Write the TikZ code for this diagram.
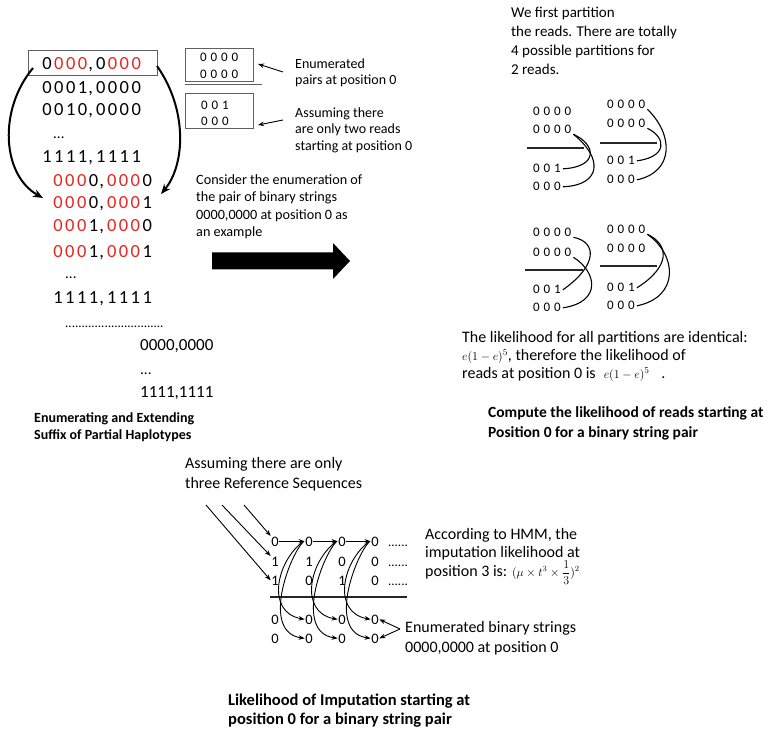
\documentclass[tikz,border=0pt]{standalone}
\usepackage{fontspec}
\setmainfont{Carlito}
\usetikzlibrary{arrows.meta}
\definecolor{hred}{RGB}{228,38,32}
\definecolor{boxgray}{RGB}{95,95,95}
\newcommand{\tfix}{\rule{0pt}{11pt}}
\newcommand{\bd}[1]{\makebox[11.8pt][c]{#1}}
\newcommand{\br}[1]{\makebox[11.8pt][c]{\color{hred}#1}}
\newcommand{\bcm}{\makebox[6.5pt][l]{,}}
\newcommand{\sd}[1]{\makebox[10.5pt][c]{#1}}
\begin{document}
\begin{tikzpicture}[x=1pt,y=-1pt,
  txt/.style={anchor=north west,inner sep=0pt,align=left},
  bin/.style={anchor=base west,inner sep=0pt,font=\fontsize{18.5}{20}\selectfont},
  pbin/.style={anchor=base west,inner sep=0pt,font=\fontsize{17}{20}\selectfont},
  sbin/.style={anchor=base west,inner sep=0pt,font=\fontsize{13}{15}\selectfont},
  gdig/.style={anchor=base,inner sep=0.5pt,font=\fontsize{14.5}{16}\selectfont},
  thinarrow/.style={line width=0.9pt,-{Stealth[length=6pt,width=4.5pt]}},
  bigcurve/.style={line width=2pt,-{Stealth[length=10pt,width=8pt]}},
  pcurve/.style={line width=1.1pt},
  sepline/.style={line width=1.3pt,draw=black!85},
  gbox/.style={draw=boxgray,line width=1pt,anchor=north west,inner sep=0pt}]
\useasboundingbox (0,0) rectangle (772,730);

% ---------------- left column ----------------
\node[gbox,minimum width=129pt,minimum height=25pt] (r1box) at (28,50) {};
\node[bin] (r1) at (41,70) {\bd0\br0\br0\br0\bcm\bd0\br0\br0\br0};
\node[bin] (r2) at (41,94) {\bd0\bd0\bd0\bd1\bcm\bd0\bd0\bd0\bd0};
\node[bin] (r3) at (41,116) {\bd0\bd0\bd1\bd0\bcm\bd0\bd0\bd0\bd0};
\node[anchor=base west,inner sep=0pt,font=\fontsize{15}{16}\selectfont] (r4) at (53,139) {...};
\node[bin] (r5) at (41,163) {\bd1\bd1\bd1\bd1\bcm\bd1\bd1\bd1\bd1};
\node[bin] (r6) at (52,187) {\br0\br0\br0\bd0\bcm\br0\br0\br0\bd0};
\node[bin] (r7) at (52,209) {\br0\br0\br0\bd0\bcm\br0\br0\br0\bd1};
\node[bin] (r8) at (52,232) {\br0\br0\br0\bd1\bcm\br0\br0\br0\bd0};
\node[bin] (r9) at (52,258) {\br0\br0\br0\bd1\bcm\br0\br0\br0\bd1};
\node[anchor=base west,inner sep=0pt,font=\fontsize{15}{16}\selectfont] (r10) at (65,279) {...};
\node[bin] (r11) at (52,304) {\bd1\bd1\bd1\bd1\bcm\bd1\bd1\bd1\bd1};
\node[anchor=base west,inner sep=0pt,font=\fontsize{13}{16}\selectfont] (r12) at (65,328) {..............................};
\node[pbin] (r13) at (140,351) {0000,0000};
\node[anchor=base west,inner sep=0pt,font=\fontsize{15}{16}\selectfont] (r14) at (140,374) {...};
\node[pbin] (r15) at (140,397) {1111,1111};
\node[txt,font=\fontsize{14}{17}\bfseries] (capL) at (34,411) {\tfix Enumerating and Extending\\Suffix of Partial Haplotypes};

\coordinate (lcs) at (33,68);
\coordinate (lce) at (43,198);
\coordinate (rcs) at (157,66);
\coordinate (rce) at (161,194);
\draw[bigcurve] (lcs) .. controls (-2,110) and (2,175) .. (lce);
\draw[bigcurve] (rcs) .. controls (188,110) and (185,165) .. (rce);

% ---------------- middle ----------------
\node[gbox,minimum width=68pt,minimum height=33pt] (box1) at (185,48) {};
\draw[line width=1pt,draw=boxgray] (box1.south west) ++(0,3) coordinate (ul1) -- ++(77,0) coordinate (ul2);
\node[sbin] (b1a) at (198,62) {\sd0\sd0\sd0\sd0};
\node[sbin] (b1b) at (198,79) {\sd0\sd0\sd0\sd0};
\node[gbox,minimum width=68pt,minimum height=35pt] (box2) at (185,93) {};
\node[sbin] (b2a) at (199,110) {\sd0\sd0\sd1};
\node[sbin] (b2b) at (199,126) {\sd0\sd0\sd0};

\node[txt,font=\fontsize{14}{16.5}\selectfont] (enum) at (295,57) {\tfix Enumerated\\pairs at position 0};
\node[txt,font=\fontsize{14}{16.5}\selectfont] (assume) at (295,106) {\tfix Assuming there\\are only two reads\\starting at position 0};
\node[txt,font=\fontsize{14.2}{17.5}\selectfont] (consider) at (196,173) {\tfix Consider the enumeration of\\the pair of binary strings\\0000,0000 at position 0 as\\an example};

\coordinate (e1s) at (283,72);
\coordinate (e1t) at (258,64);
\coordinate (e2s) at (283,120);
\coordinate (e2t) at (258,125);
\draw[thinarrow] (e1s) -- (e1t);
\draw[thinarrow] (e2s) -- (e2t);

\fill (212,252.5) -- (333,252.5) -- (333,243) -- (350,261) -- (333,279) -- (333,269.5) -- (212,269.5) -- cycle;

% ---------------- right top ----------------
\node[txt,font=\fontsize{15}{19}\selectfont] (wefirst) at (511,6) {\tfix We first partition\\the reads. There are totally\\4 possible partitions for\\2 reads.};

% partition 1
\node[sbin] (p1a) at (531,116) {\sd0\sd0\sd0\sd0};
\node[sbin] (p1b) at (531,134) {\sd0\sd0\sd0\sd0};
\draw[sepline] (527,148) coordinate (p1l) -- (584,148) coordinate (p1r);
\node[sbin] (p1c) at (531,173) {\sd0\sd0\sd1};
\node[sbin] (p1d) at (531,191) {\sd0\sd0\sd0};
\draw[pcurve] (p1b.south east) .. controls (597,145) and (598,167) .. (p1c.east);
\draw[pcurve] (p1b.south east) .. controls (603,158) and (602,185) .. (p1d.east);

% partition 2
\node[sbin] (p2a) at (605,109) {\sd0\sd0\sd0\sd0};
\node[sbin] (p2b) at (605,128) {\sd0\sd0\sd0\sd0};
\draw[sepline] (600,143) coordinate (p2l) -- (657,143) coordinate (p2r);
\node[sbin] (p2c) at (605,165) {\sd0\sd0\sd1};
\node[sbin] (p2d) at (605,184) {\sd0\sd0\sd0};
\draw[pcurve] (p2a.south east) .. controls (674,135) and (674,172) .. (p2d.east);
\draw[pcurve] (p2b.south east) .. controls (667,138) and (667,157) .. (p2c.east);

% partition 3
\node[sbin] (p3a) at (531,237) {\sd0\sd0\sd0\sd0};
\node[sbin] (p3b) at (531,257) {\sd0\sd0\sd0\sd0};
\draw[sepline] (525,270) coordinate (p3l) -- (583,270) coordinate (p3r);
\node[sbin] (p3c) at (531,294) {\sd0\sd0\sd1};
\node[sbin] (p3d) at (531,312) {\sd0\sd0\sd0};
\draw[pcurve] (p3a.south east) .. controls (597,242) and (598,265) .. (p3c.east);
\draw[pcurve] (p3b.south east) .. controls (597,272) and (602,302) .. (p3d.east);

% partition 4
\node[sbin] (p4a) at (605,234) {\sd0\sd0\sd0\sd0};
\node[sbin] (p4b) at (605,253) {\sd0\sd0\sd0\sd0};
\draw[sepline] (600,266) coordinate (p4l) -- (657,266) coordinate (p4r);
\node[sbin] (p4c) at (605,292) {\sd0\sd0\sd1};
\node[sbin] (p4d) at (605,310) {\sd0\sd0\sd0};
\draw[pcurve] (p4a.south east) .. controls (670,245) and (670,267) .. (p4c.east);
\draw[pcurve] (p4a.south east) .. controls (677,255) and (680,297) .. (p4d.east);

\node[txt,font=\fontsize{16}{18}\selectfont] (likeR) at (462,331) {\tfix The likelihood for all partitions are identical:\\{\fontsize{13}{14}\selectfont$e(1-e)^5$}, therefore the likelihood of\\reads at position 0 is\hspace{8pt}{\fontsize{13}{14}\selectfont$e(1-e)^5$}\hspace{12pt}.};
\node[txt,font=\fontsize{15.5}{20}\bfseries] (capR) at (488,406) {\tfix Compute the likelihood of reads starting at\\Position 0 for a binary string pair};

% ---------------- bottom ----------------
\node[txt,font=\fontsize{16}{20}\selectfont] (three) at (185,457) {\tfix Assuming there are only\\three Reference Sequences};

\foreach \x/\v [count=\i] in {275/0,309/0,342/0,375/0} \node[gdig] (a\i) at (\x,546) {\v};
\foreach \x/\v [count=\i] in {275/1,309/1,342/0,375/0} \node[gdig] (b\i) at (\x,566) {\v};
\foreach \x/\v [count=\i] in {275/1,309/0,342/1,375/0} \node[gdig] (c\i) at (\x,585) {\v};
\foreach \x/\v [count=\i] in {275/0,309/0,342/0,375/0} \node[gdig] (d\i) at (\x,624) {\v};
\foreach \x/\v [count=\i] in {275/0,309/0,342/0,375/0} \node[gdig] (e\i) at (\x,643) {\v};
\node[anchor=base,inner sep=0pt,font=\fontsize{13}{15}\selectfont] (dotA) at (398,546) {......};
\node[anchor=base,inner sep=0pt,font=\fontsize{13}{15}\selectfont] (dotB) at (398,566) {......};
\node[anchor=base,inner sep=0pt,font=\fontsize{13}{15}\selectfont] (dotC) at (398,585) {......};
\draw[sepline] (270,597) coordinate (gl) -- (407,597) coordinate (gr);

\draw[thinarrow] (a1) -- (a2);
\draw[thinarrow] (a2) -- (a3);
\draw[thinarrow] (a3) -- (a4);

\foreach \k/\x in {2/309,3/342,4/375} {
  \draw[thinarrow] ([xshift=-1pt]a\k.west) .. controls ({\x-32},560) and ({\x-44},612) .. (d\k.west);
  \draw[thinarrow] ([xshift=-1pt]a\k.west) .. controls ({\x-20},556) and ({\x-48},632) .. (e\k.west);
}

\coordinate (t1) at (206,505);
\coordinate (t2) at (222,505);
\coordinate (t3) at (244,505);
\draw[thinarrow] (t3) -- (a1.north west);
\draw[thinarrow] (t2) -- (b1.north west);
\draw[thinarrow] (t1) -- (c1.west);

\node[txt,font=\fontsize{16}{18.5}\selectfont] (hmm) at (425,528) {\tfix According to HMM, the\\imputation likelihood at\\position 3 is: {\fontsize{12}{14}\selectfont$(\mu\times t^3\times\displaystyle\frac{1}{3})^2$}};

\node[txt,font=\fontsize{16}{20}\selectfont] (enumbin) at (405,621) {\tfix Enumerated binary strings\\0000,0000 at position 0};
\coordinate (eb) at (400,629);
\draw[thinarrow] (eb) -- (d4.east);
\draw[thinarrow] (eb) -- (e4.east);

\node[txt,font=\fontsize{16.5}{19}\bfseries] (capB) at (228,694) {\tfix Likelihood of Imputation starting at\\position 0 for a binary string pair};
\end{tikzpicture}
\end{document}
